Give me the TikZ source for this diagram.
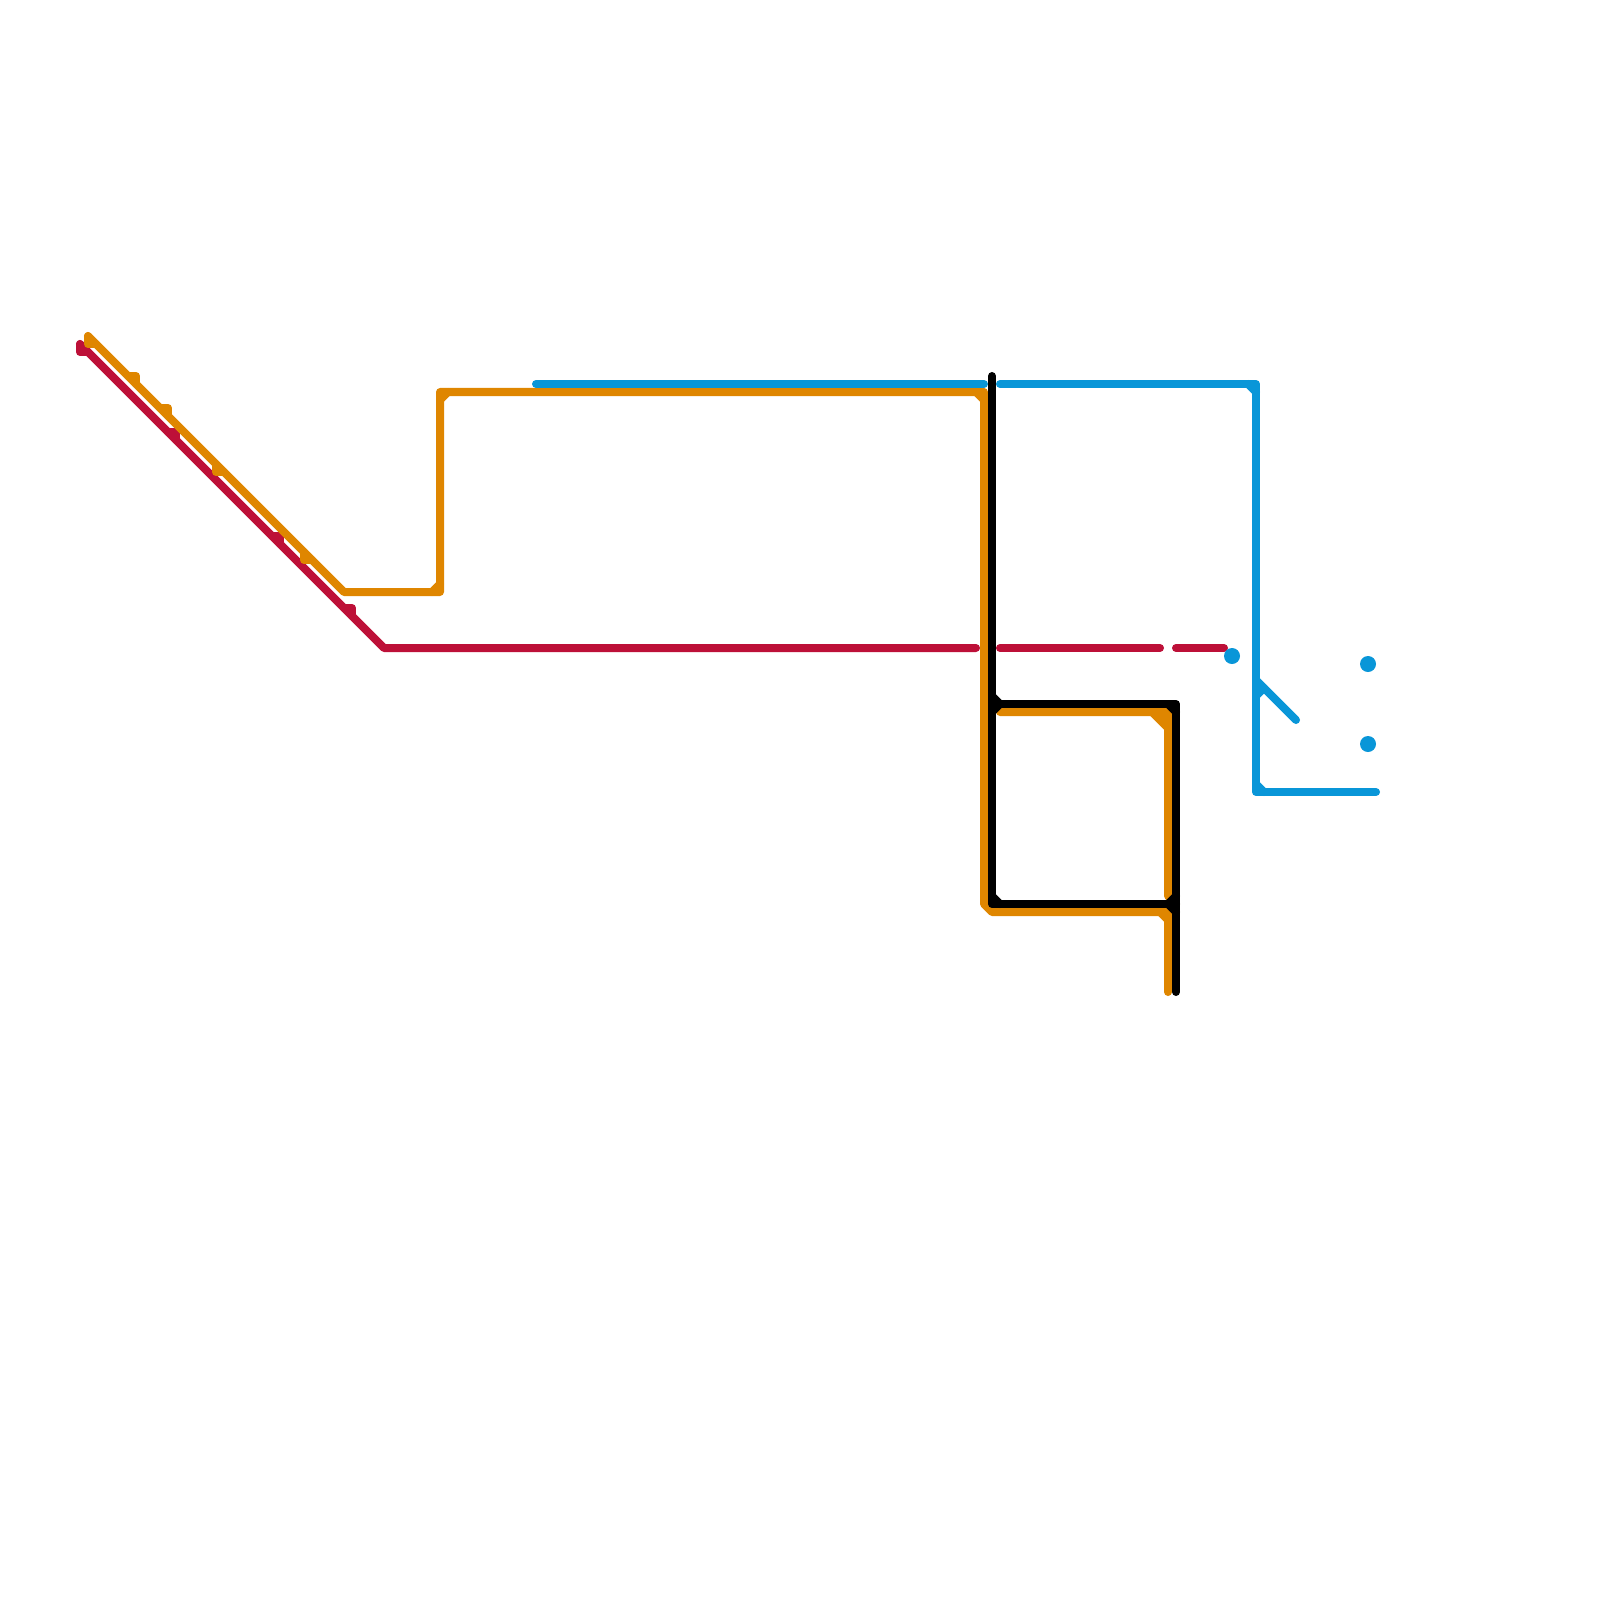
\documentclass[tikz,border=0pt]{standalone}
\definecolor{linered}{RGB}{189,16,56}
\definecolor{lineorange}{RGB}{223,134,0}
\definecolor{lineblue}{RGB}{9,150,216}
\tikzset{
  metroline/.style={line width=0.08cm, line cap=round, line join=round},
  redline/.style={metroline, draw=linered},
  orangeline/.style={metroline, draw=lineorange},
  blueline/.style={metroline, draw=lineblue},
  blackline/.style={metroline, draw=black},
  bluedot/.style={circle, fill=lineblue, inner sep=0pt, minimum size=0.16cm}
}
\begin{document}
\begin{tikzpicture}[x=0.01cm,y=-0.01cm]
\useasboundingbox (0,0) rectangle (1600,1600);
% red
\draw[redline] (80,344) -- (384,648) -- (976,648);
\draw[redline] (80,344) -- (80,352) -- (88,352);
\draw[redline] (1000,648) -- (1160,648);
\draw[redline] (1176,648) -- (1224,648);
\foreach \x/\y in {176/432, 280/536, 352/608} {
  \draw[redline] (\x-8,\y) -- (\x,\y) -- (\x,\y+8);
}
% orange
\draw[orangeline] (88,336) -- (344,592) -- (440,592) -- (440,392) -- (984,392) -- (984,904) -- (992,912) -- (1168,912) -- (1168,992);
\draw[orangeline] (88,336) -- (88,344) -- (96,344);
\foreach \x/\y in {136/376, 168/408} {
  \draw[orangeline] (\x-8,\y) -- (\x,\y) -- (\x,\y+8);
}
\foreach \x/\y in {216/464, 304/552} {
  \draw[orangeline] (\x,\y) -- (\x,\y+8) -- (\x+8,\y+8);
}
\draw[orangeline] (432,592) -- (440,584);
\draw[orangeline] (440,400) -- (448,392);
\draw[orangeline] (976,392) -- (984,400);
\draw[orangeline] (1160,912) -- (1168,920);
\draw[orangeline] (1000,712) -- (1168,712) -- (1168,896) -- (1176,904);
\draw[orangeline] (1152,712) -- (1168,728);
\draw[orangeline] (1160,712) -- (1168,720);
% blue
\draw[blueline] (536,384) -- (984,384);
\draw[blueline] (1000,384) -- (1256,384) -- (1256,792) -- (1376,792);
\draw[blueline] (1248,384) -- (1256,392);
\draw[blueline] (1256,680) -- (1296,720);
\draw[blueline] (1256,696) -- (1264,688);
\draw[blueline] (1256,784) -- (1264,792);
\node[bluedot] (dotA) at (1232,656) {};
\node[bluedot] (dotB) at (1368,664) {};
\node[bluedot] (dotC) at (1368,744) {};
% black
\draw[blackline] (992,376) -- (992,904) -- (1176,904);
\draw[blackline] (992,704) -- (1176,704) -- (1176,992);
\draw[blackline] (992,696) -- (1000,704) -- (992,712);
\draw[blackline] (992,896) -- (1000,904);
\draw[blackline] (1168,704) -- (1176,712);
\draw[blackline] (1176,896) -- (1168,904) -- (1176,912);
\end{tikzpicture}
\end{document}
